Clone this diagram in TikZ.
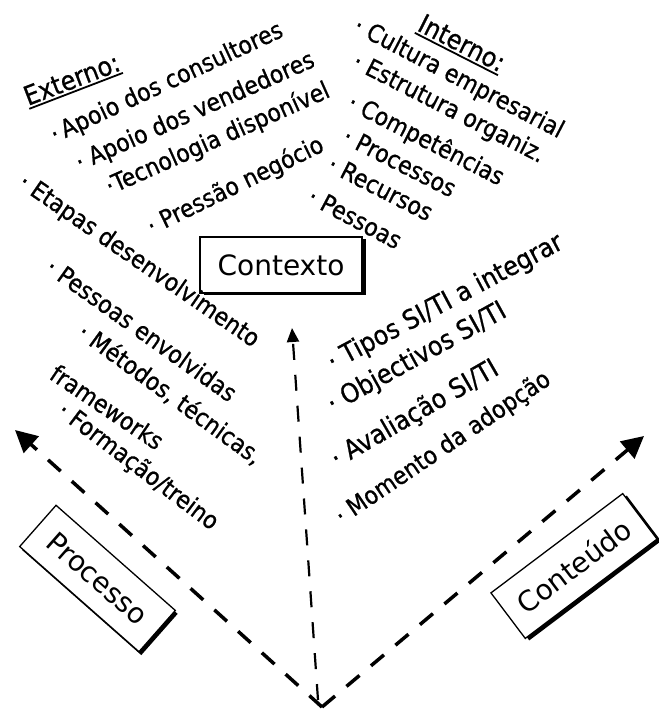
\documentclass[tikz,border=0pt]{standalone}
\usepackage{fontspec}
\setmainfont{DejaVu Sans}
\newfontfamily\listfont[FakeBold=0.8,FakeStretch=0.9]{DejaVu Sans}
\usetikzlibrary{arrows.meta}
% underline with a heavier rule than \underline
\newcommand\undl[1]{\setbox0\hbox{#1}\rlap{\rule[-4pt]{\wd0}{1.8pt}}\box0}
\begin{document}
\begin{tikzpicture}[x=1pt,y=1pt,
  item/.style={anchor=base west, inner sep=0pt, font=\listfont\fontsize{24.5}{28}\selectfont},
  bigitem/.style={item, font=\listfont\fontsize{26.5}{30}\selectfont},
  axis/.style={line width=3.5pt, dash pattern=on 17pt off 15pt, -{Triangle[length=22pt,width=22pt]}},
  midaxis/.style={line width=2.2pt, dash pattern=on 16pt off 15pt, -{Triangle[length=14pt,width=12pt]}},
  tagbox/.style={draw, line width=1.3pt, fill=white, inner sep=0pt, transform shape,
                 font=\fontsize{28}{32}\selectfont},
]
\useasboundingbox (0,0) rectangle (658,-711);

% axes
\coordinate (O) at (322,-707);
\coordinate (Ob) at (318,-700);
\coordinate (L) at (15,-430);
\coordinate (R) at (644,-436);
\coordinate (U) at (292,-328);
\draw[axis] (O) -- (L);
\draw[axis] (O) -- (R);
\draw[midaxis] (Ob) -- (U);

% labelled boxes with drop shadows
\begin{scope}[shift={(281,-265)}]
  \fill (-81+4,-28-2) rectangle (81+4,28-2);
  \node[tagbox, minimum width=162pt, minimum height=56pt] (ctx) at (0,0) {Contexto};
\end{scope}
\begin{scope}[shift={(97.5,-578.5)}, rotate=-41.4]
  \fill (-79.5+4,-27.5-1) rectangle (79.5+4,27.5-1);
  \node[tagbox, minimum width=159pt, minimum height=55pt] (proc) at (0,0) {Processo};
\end{scope}
\begin{scope}[shift={(574,-566)}, rotate=37]
  \fill (-82.5+2,-28.5-4) rectangle (82.5+2,28.5-4);
  \node[tagbox, minimum width=165pt, minimum height=57pt] (cont) at (0,0) {Conteúdo};
\end{scope}

% external context
\node[bigitem, rotate=21] (ext) at (28,-106) {\undl{Externo:}};
\node[item, rotate=25] (e1) at (55,-143) {·\,Apoio dos consultores};
\node[item, rotate=24] (e2) at (80,-171) {· Apoio dos vendedores};
\node[item, rotate=24] (e3) at (110,-195) {·Tecnologia disponível};
\node[item, rotate=26] (e4) at (152,-235) {· Pressão negócio};

% process
\node[item, rotate=-34.5] (p1) at (17,-186) {· Etapas desenvolvimento};
\node[item, rotate=-35.5] (p2) at (44,-271) {· Pessoas envolvidas};
\node[item, rotate=-36] (p3) at (76,-336) {· Métodos, técnicas,};
\node[item, rotate=-34] (p4) at (48,-378) {frameworks};
\node[item, rotate=-37] (p5) at (56,-414) {· Formação/treino};

% internal context
\node[bigitem, rotate=-27] (int) at (416,-30) {\undl{Interno:}};
\node[item, rotate=-27.5] (i1) at (352,-31) {· Cultura empresarial};
\node[item, rotate=-27] (i2) at (351,-67) {· Estrutura organiz.};
\node[item, rotate=-27] (i3) at (346,-108) {· Competências};
\node[item, rotate=-27] (i4) at (341,-142) {· Processos};
\node[item, rotate=-27] (i5) at (326,-170) {· Recursos};
\node[item, rotate=-28] (i6) at (306,-202) {· Pessoas};

% content
\node[bigitem, rotate=28] (c1) at (333,-371) {· Tipos SI/TI a integrar};
\node[bigitem, rotate=29] (c2) at (333,-413) {· Objectivos SI/TI};
\node[bigitem, rotate=30] (c3) at (337,-468) {· Avaliação SI/TI};
\node[item, rotate=34] (c4) at (342,-525) {· Momento da adopção};
\end{tikzpicture}
\end{document}
